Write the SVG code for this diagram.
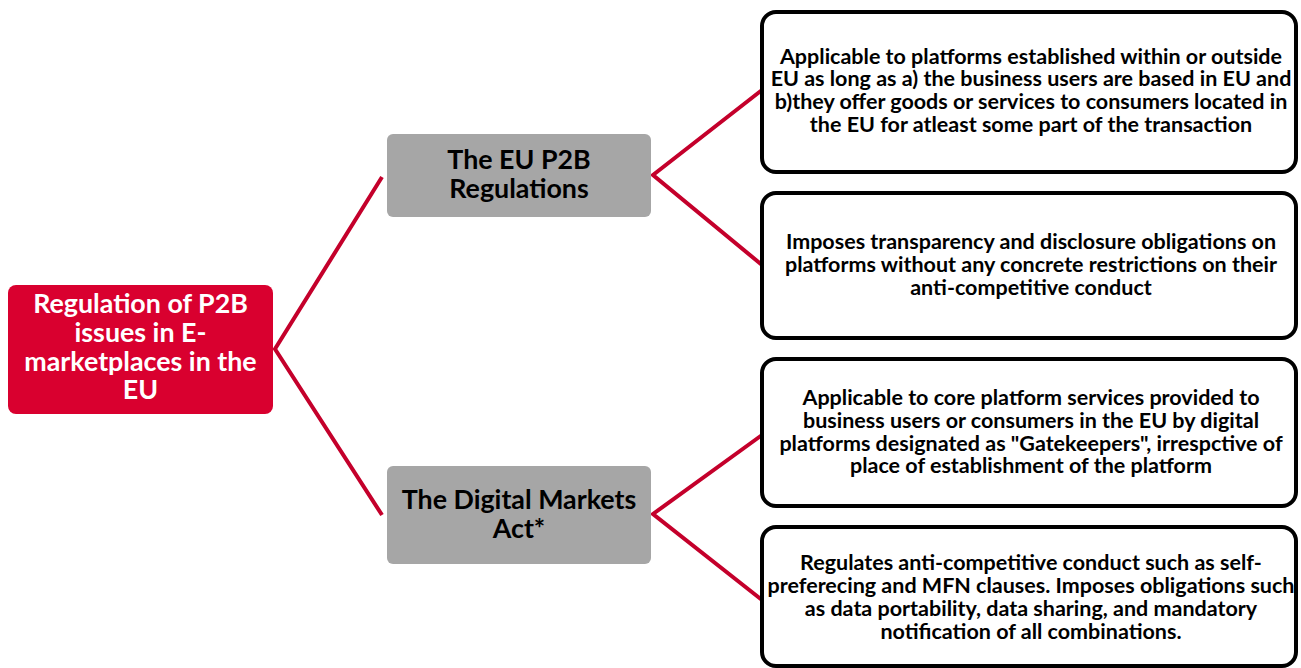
<svg xmlns="http://www.w3.org/2000/svg" width="1301" height="668" viewBox="0 0 1301 668">
<style>
.root{fill:#d9002f}
.mid{fill:#a6a6a6}
.leaf{fill:#fff;stroke:#000;stroke-width:4}
.conn{fill:none;stroke:#c4002b;stroke-width:4;stroke-linejoin:miter}
text{font-family:Lato,"Liberation Sans",sans-serif;font-weight:bold;text-anchor:middle}
.tw{fill:#fff;font-size:26.8px}
.tb{fill:#000;font-size:26.8px}
.ts{fill:#000;font-size:21.5px}
</style>
<rect width="1301" height="668" fill="#fff"/>
<g id="connectors">
<polyline class="conn" points="382,177 275,349 382,515"/>
<polyline class="conn" points="762,90 653,175 762,265"/>
<polyline class="conn" points="762,435 653,514 762,600"/>
</g>
<g id="root">
<rect class="root" x="8" y="285" width="265" height="129" rx="8"/>
<text class="tw" x="140.5" y="313">Regulation of P2B</text>
<text class="tw" x="140.5" y="342">issues in E-</text>
<text class="tw" x="140.5" y="371">marketplaces in the</text>
<text class="tw" x="140.5" y="399">EU</text>
</g>
<g id="p2b">
<rect class="mid" x="387" y="134" width="264" height="83" rx="6"/>
<text class="tb" x="519" y="169">The EU P2B</text>
<text class="tb" x="519" y="198">Regulations</text>
</g>
<g id="dma">
<rect class="mid" x="387" y="466" width="264" height="98" rx="6"/>
<text class="tb" x="519" y="509">The Digital Markets</text>
<text class="tb" x="519" y="538">Act*</text>
</g>
<g id="leaf1">
<rect class="leaf" x="762" y="12" width="534" height="160" rx="14"/>
<text class="ts" x="1031" y="64">Applicable to platforms established within or outside</text>
<text class="ts" x="1031" y="86">EU as long as a) the business users are based in EU and</text>
<text class="ts" x="1031" y="109">b)they offer goods or services to consumers located in</text>
<text class="ts" x="1031" y="132">the EU for atleast some part of the transaction</text>
</g>
<g id="leaf2">
<rect class="leaf" x="762" y="193" width="534" height="145" rx="14"/>
<text class="ts" x="1031" y="249">Imposes transparency and disclosure obligations on</text>
<text class="ts" x="1031" y="272">platforms without any concrete restrictions on their</text>
<text class="ts" x="1031" y="295">anti-competitive conduct</text>
</g>
<g id="leaf3">
<rect class="leaf" x="762" y="359" width="534" height="147" rx="14"/>
<text class="ts" x="1031" y="405">Applicable to core platform services provided to</text>
<text class="ts" x="1031" y="428">business users or consumers in the EU by digital</text>
<text class="ts" x="1031" y="451">platforms designated as "Gatekeepers", irrespctive of</text>
<text class="ts" x="1031" y="473">place of establishment of the platform</text>
</g>
<g id="leaf4">
<rect class="leaf" x="762" y="527" width="534" height="139" rx="14"/>
<text class="ts" x="1031" y="570">Regulates anti-competitive conduct such as self-</text>
<text class="ts" x="1031" y="593">preferecing and MFN clauses. Imposes obligations such</text>
<text class="ts" x="1031" y="616">as data portability, data sharing, and mandatory</text>
<text class="ts" x="1031" y="639">notification of all combinations.</text>
</g>
</svg>
